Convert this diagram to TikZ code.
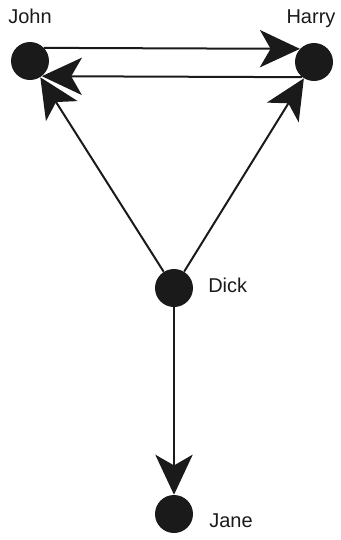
\documentclass[tikz,border=0pt]{standalone}
\usepackage{fontspec}
\setmainfont{Liberation Sans}
\usetikzlibrary{arrows.meta,positioning}
\definecolor{dot}{HTML}{1A1A1A}

\begin{document}
\begin{tikzpicture}[x=0.75pt,y=-0.75pt,font=\fontsize{15pt}{18pt}\selectfont,
  person/.style={circle,fill=dot,draw=none,inner sep=0pt,minimum size=28.5pt},
  lbl/.style={inner sep=0pt,text=dot},
  arr/.style={-{Stealth[length=30pt,width=28pt,inset=8pt]},line width=1.5pt,draw=dot,fill=dot}]
\useasboundingbox (0,0) rectangle (341,540);
\node[person] (john) at (30,61) {};
\node[person] (harry) at (314,62) {};
\node[person] (dick) at (174,288) {};
\node[person] (jane) at (174,514) {};
\node[lbl,anchor=base] (johnlbl) at (30,23) {John};
\node[lbl,anchor=base] (harrylbl) at (311,23) {Harry};
\node[lbl,anchor=base west] (dicklbl) at (208,292) {Dick};
\node[lbl,anchor=base west] (janelbl) at (209,527) {Jane};
\draw[arr] (john.43) -- (harry.137);
\draw[arr] (harry.232) -- (john.-52);
\draw[arr] (dick) -- (john);
\draw[arr] (dick) -- (harry);
\draw[arr] (dick) -- (jane);
\end{tikzpicture}
\end{document}
